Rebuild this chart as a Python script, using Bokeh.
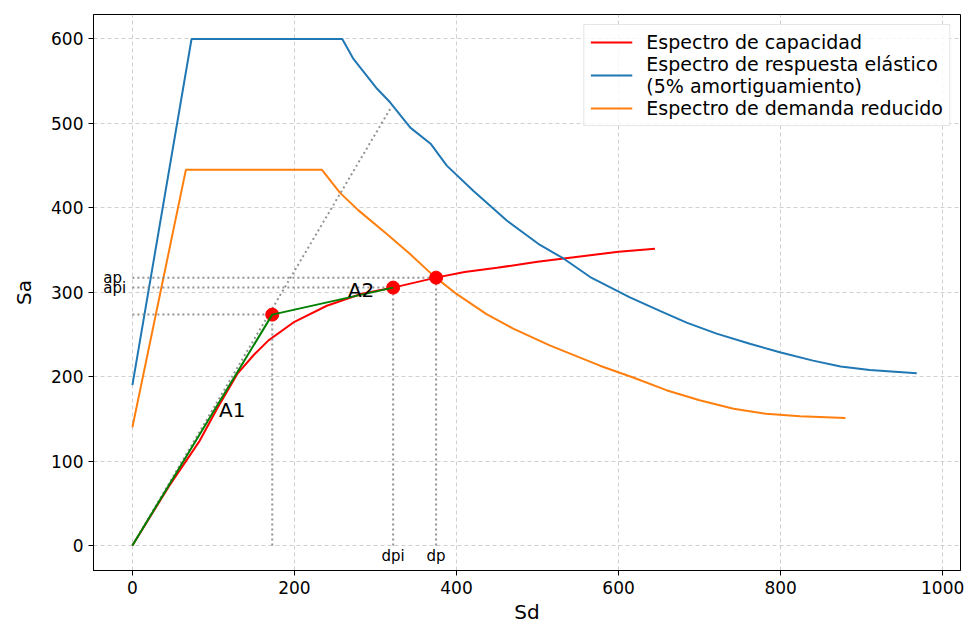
from bokeh.plotting import figure
from bokeh.models import Range1d, Legend, LegendItem, FixedTicker
from bokeh.core.properties import value
from bokeh.embed import file_html
from bokeh.resources import INLINE

# Capacity spectrum (Sd, Sa)
cap_sd = [0, 45, 83, 105, 130, 150, 168, 200, 240, 282, 321.8, 374.8, 410, 450, 500, 550, 600, 645]
cap_sa = [0, 70, 124, 163, 204, 226, 243, 265, 284, 298, 305.5, 317.3, 324, 329, 336, 342, 348, 351.5]

# Elastic response spectrum, 5% damping
el_sd = [0, 73, 259, 273, 302, 318, 343, 368, 388, 421, 462, 503, 532, 565, 614,
         651, 684, 721, 762, 799, 840, 874, 910, 968]
el_sa = [190, 600, 600, 576, 541, 525, 495, 476, 450, 420, 385, 356, 340, 318, 294,
         278, 264, 251, 239, 229, 219, 212, 208, 204]

# Reduced demand spectrum
red_sd = [0, 66, 234, 256, 279, 314, 343, 371, 400, 437, 470, 515, 577, 618, 659,
          700, 742, 782, 824, 880]
red_sa = [140, 445, 445, 418, 397, 369, 345, 320, 298, 274, 257, 237, 213, 199, 184,
          172, 162, 156, 153, 151]

# Bilinear representation and performance points
dy, ay = 172.6, 273.5
dpi, api = 321.8, 305.5
dp, ap = 374.8, 317.3
bil_sd = [0, dy, dpi]
bil_sa = [0, ay, api]

# Initial stiffness line
k0_sd = [0, 318]
k0_sa = [0, 517]

FONT = "DejaVu Sans"

p = figure(width=966, height=626, output_backend="svg", toolbar_location=None,
           x_range=Range1d(-48, 1022), y_range=Range1d(-29.6, 629),
           min_border_left=93, min_border_right=6, min_border_top=14, min_border_bottom=56,
           background_fill_color="white", border_fill_color="white")

p.outline_line_color = "black"
p.outline_line_width = 1
p.outline_line_alpha = 1

for ax in (p.xaxis[0], p.yaxis[0]):
    ax.axis_line_color = "black"
    ax.major_tick_line_color = "black"
    ax.major_tick_out = 5
    ax.major_tick_in = 0
    ax.minor_tick_line_color = None
    ax.major_label_text_font = FONT
    ax.major_label_text_font_size = "17px"
    ax.major_label_text_color = "black"
    ax.axis_label_text_font = FONT
    ax.axis_label_text_font_size = "20px"
    ax.axis_label_text_font_style = "normal"
    ax.axis_label_text_color = "black"
    ax.major_label_standoff = 5

p.xaxis.ticker = FixedTicker(ticks=[0, 200, 400, 600, 800, 1000])
p.yaxis.ticker = FixedTicker(ticks=[0, 100, 200, 300, 400, 500, 600])
p.xaxis.axis_label = "Sd"
p.yaxis.axis_label = "Sa"
p.xaxis.axis_label_standoff = 3
p.yaxis.axis_label_standoff = 12

for g in (p.xgrid[0], p.ygrid[0]):
    g.grid_line_color = "#b0b0b0"
    g.grid_line_alpha = 0.6
    g.grid_line_dash = "4 3"
    g.grid_line_width = 1

r_cap = p.line(cap_sd, cap_sa, line_color="#ff0000", line_width=2)
r_el = p.line(el_sd, el_sa, line_color="#1f77b4", line_width=2)
r_red = p.line(red_sd, red_sa, line_color="#ff7f0e", line_width=2)

# dotted construction lines
dot = dict(line_color="gray", line_width=2, line_dash="2 3", line_alpha=0.85)
p.line(k0_sd, k0_sa, **dot)
p.segment(x0=[dy, dpi, dp], y0=[0, 0, 0], x1=[dy, dpi, dp], y1=[ay, api, ap], **dot)
p.segment(x0=[0, 0, 0], y0=[ay, api, ap], x1=[dy, dpi, dp], y1=[ay, api, ap], **dot)

p.scatter([dy, dpi, dp], [ay, api, ap], size=13, fill_color="#ff0000", line_color="#ff0000")
p.line(bil_sd, bil_sa, line_color="green", line_width=2)

# area labels
p.text(x=[107, 266], y=[160, 303], text=["A1", "A2"], text_font=value(FONT),
       text_font_size="20px", text_align="left", text_baseline="alphabetic", text_color="black")
# point labels
p.text(x=[-36, -36], y=[ap, api], text=["ap", "api"], text_font=value(FONT),
       text_font_size="15px", text_align="left", text_baseline="middle", text_color="black")
p.text(x=[dpi, dp], y=[-12.5, -12.5], text=["dpi", "dp"], text_font=value(FONT),
       text_font_size="15px", text_align="center", text_baseline="middle", text_color="black")

legend = Legend(items=[
    LegendItem(label="Espectro de capacidad", renderers=[r_cap]),
    LegendItem(label="Espectro de respuesta elástico\n(5% amortiguamiento)", renderers=[r_el]),
    LegendItem(label="Espectro de demanda reducido", renderers=[r_red]),
], location="top_right", label_text_font=FONT, label_text_font_size="19px",
    label_text_color="black",
    glyph_width=42, glyph_height=20, label_standoff=14, spacing=0, padding=6, margin=10,
    border_line_color="#cccccc", border_line_width=1, background_fill_alpha=0.8)
p.add_layout(legend)

open("out.html", "w").write(file_html(p, INLINE))
